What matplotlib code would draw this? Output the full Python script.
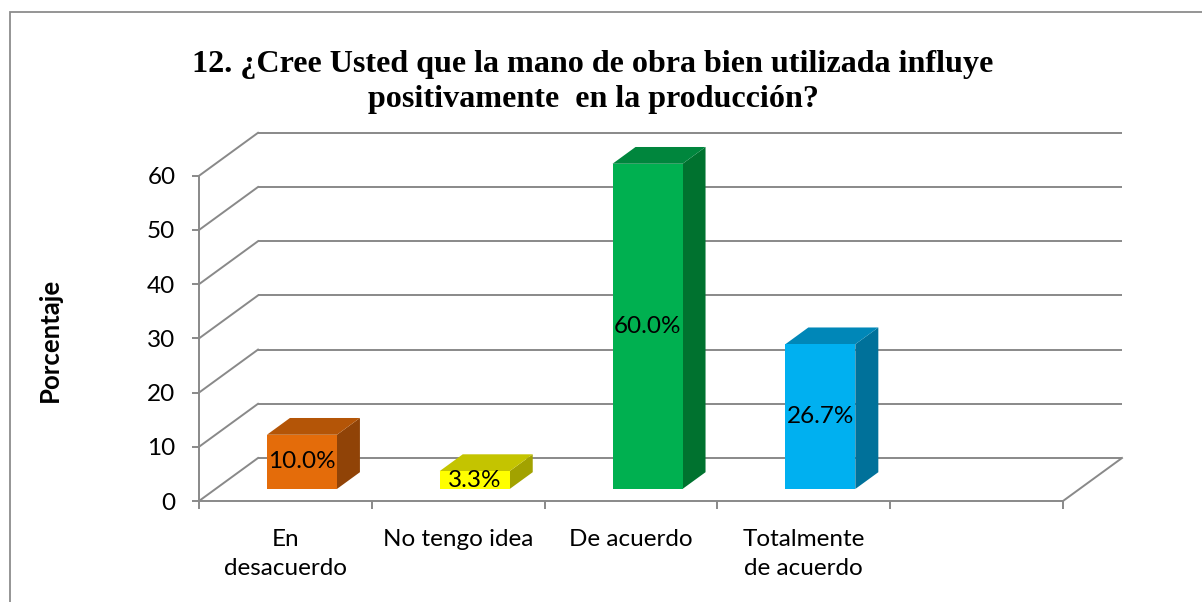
import numpy as np
import matplotlib.pyplot as plt
from matplotlib.patches import Polygon, Rectangle

categories = ["En\ndesacuerdo", "No tengo idea", "De acuerdo", "Totalmente\nde acuerdo", ""]
values = [10.0, 3.3, 60.0, 26.7]
labels = ["10.0%", "3.3%", "60.0%", "26.7%"]
yticks = [0, 10, 20, 30, 40, 50, 60]

# front / top / side shades per bar
front_colors = ["#E46C0A", "#FFFF00", "#00B050", "#00B0F0"]
top_colors = ["#B45507", "#C4C400", "#00863D", "#0087B8"]
side_colors = ["#904307", "#A2A200", "#00722F", "#00719A"]

title_1 = "12. ¿Cree Usted que la mano de obra bien utilizada influye"
title_2 = "positivamente  en la producción?"
ylabel = "Porcentaje"

W, H = 1202, 602
X0, SX = 199.0, 172.8     # pixel x of category 0 edge, pixels per category
Y0, SY = 501.0, 5.42      # pixel y of value 0, pixels per unit
DX = 59 / SX              # depth offset in category units
DV = 43 / SY              # depth offset in value units
GRID = "#898989"
SANS = "Lato"
FS = 17.5


def proj(x, v, z):
    return x + z * DX, v + z * DV


fig = plt.figure(figsize=(W / 100, H / 100), dpi=100)
ax = fig.add_axes([0, 0, 1, 1])
ax.set_xlim(-X0 / SX, (W - X0) / SX)
ax.set_ylim((Y0 - H) / SY, Y0 / SY)
ax.patch.set_alpha(0)

n = len(categories)

# back wall and left wall grid
for v in yticks:
    xa, ya = proj(0, v, 1)
    xb, yb = proj(n, v, 1)
    ax.plot([xa, xb], [ya, yb], color=GRID, lw=1.4, zorder=1, solid_capstyle="butt")
    xc, yc = proj(0, v, 0)
    ax.plot([xc, xa], [yc, ya], color=GRID, lw=1.4, zorder=1)
# floor right edge
xa, ya = proj(n, 0, 0)
xb, yb = proj(n, 0, 1)
ax.plot([xa, xb], [ya, yb], color=GRID, lw=1.4, zorder=1)

# bars
bw = 70 / SX
z0, z1 = 0.28, 0.67
for i, val in enumerate(values):
    xl = i + 0.5 - bw / 2
    xr = i + 0.5 + bw / 2
    side = [proj(xr, 0, z0), proj(xr, 0, z1), proj(xr, val, z1), proj(xr, val, z0)]
    top = [proj(xl, val, z0), proj(xr, val, z0), proj(xr, val, z1), proj(xl, val, z1)]
    front = [proj(xl, 0, z0), proj(xr, 0, z0), proj(xr, val, z0), proj(xl, val, z0)]
    ax.add_patch(Polygon(side, closed=True, fc=side_colors[i], ec="none", zorder=3))
    ax.add_patch(Polygon(top, closed=True, fc=top_colors[i], ec="none", zorder=3))
    ax.add_patch(Polygon(front, closed=True, fc=front_colors[i], ec="none", zorder=3))
    tx, ty = proj(i + 0.5, val / 2, z0)
    ax.text(tx, ty, labels[i], ha="center", va="center", fontsize=FS,
            family=SANS, color="black", zorder=4)

# axes: front left spine and floor front edge
for s in ["top", "right"]:
    ax.spines[s].set_visible(False)
ax.spines["left"].set_position(("data", 0))
ax.spines["left"].set_bounds(0, 60)
ax.spines["bottom"].set_position(("data", 0))
ax.spines["bottom"].set_bounds(0, n)
for s in ["left", "bottom"]:
    ax.spines[s].set_color(GRID)
    ax.spines[s].set_linewidth(1.4)

ax.set_yticks(yticks)
ax.set_yticklabels([str(t) for t in yticks], family=SANS, fontsize=FS)
ax.set_xticks(np.arange(n + 1))
ax.set_xticklabels([])
ax.set_xticks(np.arange(n) + 0.5, minor=True)
ax.set_xticklabels(categories, minor=True, family=SANS, fontsize=FS, linespacing=1.5)
ax.tick_params(axis="y", direction="out", length=5, width=1.4, color=GRID, pad=12)
ax.tick_params(axis="x", which="major", direction="out", length=6, width=1.4, color=GRID)
ax.tick_params(axis="x", which="minor", length=0, pad=20)

# title and axis label
fig.text(593 / W, 1 - 72 / H, title_1, ha="center", va="baseline", fontsize=23.1,
         family="Liberation Serif", weight="bold")
fig.text(593 / W, 1 - 107 / H, title_2, ha="center", va="baseline", fontsize=23.1,
         family="Liberation Serif", weight="bold")
fig.text(50 / W, 1 - 340 / H, ylabel, ha="center", va="center", rotation=90,
         fontsize=18.5, family=SANS, weight="bold")

# chart area border
fig.patches.append(Rectangle((10 / W, -0.1), 1.2, 1 - 12 / H + 0.1, transform=fig.transFigure,
                             fill=False, ec="#8C8C8C", lw=1.3))

fig.savefig("out.png", dpi=100)
